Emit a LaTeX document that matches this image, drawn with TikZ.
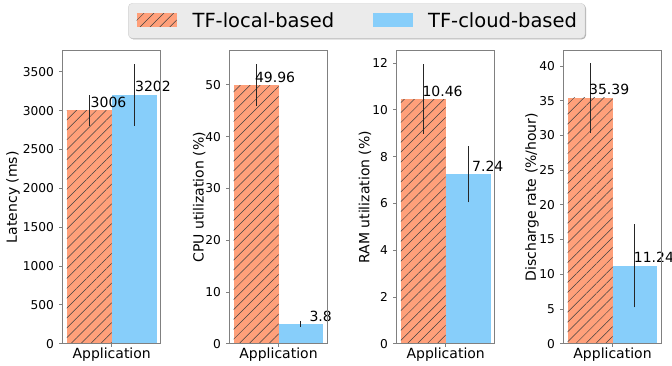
\documentclass[tikz,border=0pt]{standalone}
\usepackage{fontspec}
\setmainfont{DejaVu Sans}
\usetikzlibrary{patterns.meta,positioning}

\definecolor{localc}{RGB}{255,160,122}
\definecolor{cloudc}{RGB}{135,206,250}
\definecolor{framec}{RGB}{128,128,128}
\definecolor{legendc}{RGB}{235,235,235}

\begin{document}
\begin{tikzpicture}[
  x=1pt, y=1pt,
  localbar/.style = {fill=localc,
                     postaction={pattern={Lines[angle=45,distance=7pt,line width=0.5pt]},
                                 pattern color=black!75}},
  cloudbar/.style = {fill=cloudc},
  errbar/.style   = {black!85, line width=1pt},
  frame/.style    = {draw=framec, line width=0.8pt},
  ticklab/.style  = {font=\fontsize{12.2}{14}\selectfont, anchor=east, inner sep=0pt},
  vallab/.style   = {font=\fontsize{14}{16}\selectfont, anchor=base west, inner sep=0pt},
  axlab/.style    = {font=\fontsize{14}{16}\selectfont, inner sep=0pt},
  legtext/.style  = {font=\fontsize{19.5}{22}\selectfont, inner sep=0pt},
  legkey/.style   = {minimum width=40pt, minimum height=13.4pt, inner sep=0pt}
]
\useasboundingbox (0,0) rectangle (672,365);

% one panel per metric: left edge, y range, ticks, local bar, cloud bar, y label
\foreach \xl/\ymax/\tstep/\tmax/\lv/\le/\lx/\cv/\ce/\cx/\ylx/\ylab [count=\n] in {
    62.7/3770/500/3500/3006/200/1.2/3202/400/0.8/-45.7/{Latency (ms)},
    229.5/56.6/10/50/49.96/4/-1.3/3.8/0.5/8.4/-26/{CPU utilization (\%)},
    396.7/12.53/2/12/10.46/1.48/-1/7.24/1.2/3.9/-27.4/{RAM utilization (\%)},
    563.5/42.2/5/40/35.39/5/-1.2/11.24/6/-1.2/-27.7/{Discharge rate (\%/hour)}} {
  \begin{scope}[shift={(\xl,21.3)}]
    \pgfmathsetmacro\f{293/\ymax}
    % bars
    \draw[localbar, draw=none] (4.2,0) rectangle (49,{\lv*\f});
    \draw[cloudbar, draw=none] (49,0) rectangle (93.8,{\cv*\f});
    % error bars
    \draw[errbar] (26.6,{(\lv-\le)*\f}) -- (26.6,{(\lv+\le)*\f});
    \draw[errbar] (71.4,{(\cv-\ce)*\f}) -- (71.4,{(\cv+\ce)*\f});
    % value labels
    \node[vallab, xshift=\lx, yshift=3pt] (vl\n) at (26.6,{\lv*\f}) {\lv};
    \node[vallab, xshift=\cx, yshift=3pt] (vc\n) at (71.4,{\cv*\f}) {\cv};
    % y ticks
    \foreach \t in {0,\tstep,...,\tmax} {
      \pgfmathtruncatemacro\tl{\t}
      \draw[frame] (0,{\t*\f}) -- (-3.5,{\t*\f});
      \node[ticklab] (t\n-\tl) at (-8.5,{\t*\f}) {\tl};
    }
    % frame and x tick
    \draw[frame] (0,0) rectangle (98,293);
    \draw[frame] (49,0) -- (49,-3.5);
    \node[axlab, anchor=base] (app\n) at (49,-15) {Application};
    \node[axlab, rotate=90, anchor=base] (yl\n) at (\ylx,146.5) {\ylab};
  \end{scope}
}

% legend
\fill[black!30, rounded corners=4pt] (129.3,325.7) rectangle (586,360.7);
\draw[fill=legendc, draw=black!18, rounded corners=4pt] (128.3,326.7) rectangle (585,361.7);
\node[legkey, localbar] (keylocal) at (156.7,345) {};
\node[legtext, right=15.5pt of keylocal] (leglocal) {TF-local-based};
\node[legkey, cloudbar] (keycloud) at (392.7,345) {};
\node[legtext, right=15pt of keycloud] (legcloud) {TF-cloud-based};

\end{tikzpicture}
\end{document}
